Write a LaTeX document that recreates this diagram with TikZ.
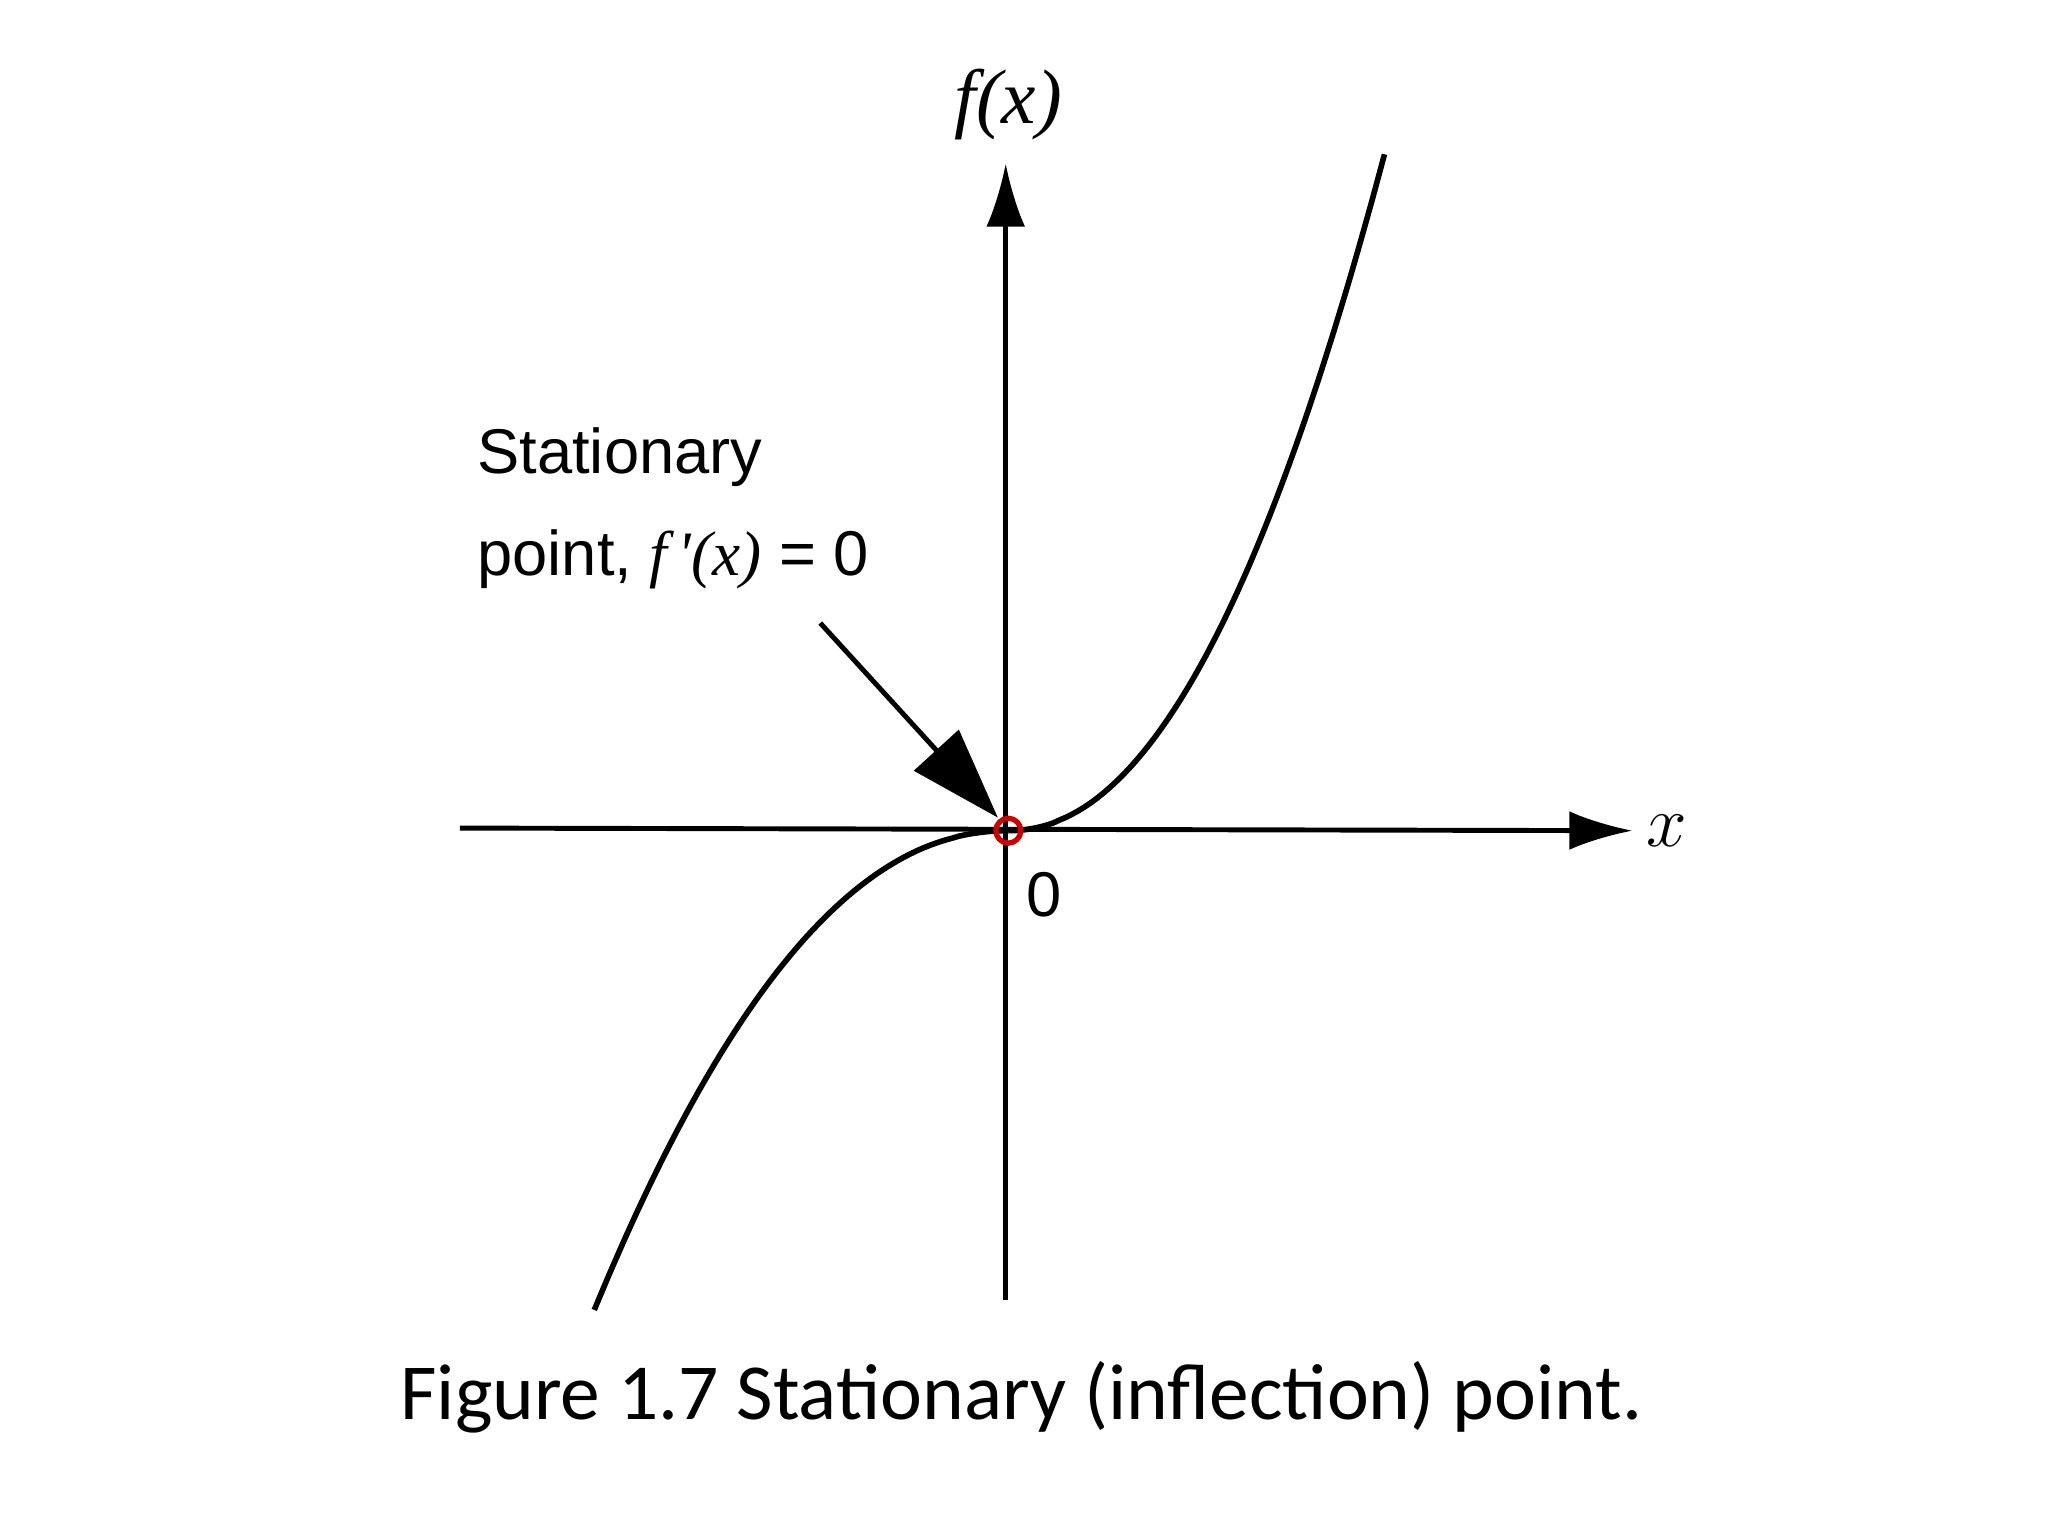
\documentclass[tikz,border=0pt]{standalone}
\usepackage{fontspec}
\setmainfont{Liberation Sans}
\newfontfamily\capfont{Carlito}
\newfontfamily\serifit{Liberation Serif}
\usetikzlibrary{arrows.meta}
\begin{document}
\begin{tikzpicture}[x=0.013061cm,y=-0.013061cm,
  axis/.style={line width=1.4pt,-{Latex[length=18pt,width=11pt]}},
  curve/.style={line width=1.6pt},
  lbl/.style={font=\fontsize{18}{22}\selectfont,anchor=west,inner sep=0pt}]
\useasboundingbox (0,0) rectangle (1568,1176);
\coordinate (O) at (772,636);
\coordinate (yb) at (770,995);
\coordinate (yt) at (770,125);
\coordinate (xl) at (352,634);
\coordinate (xr) at (1250,636);
\draw[axis] (yb) -- (yt);
\draw[axis] (xl) -- (xr);
\node (fx) at (772,80) {\serifit\itshape\fontsize{22}{26}\selectfont f(x)};
\node (xlab) at (1276,636) {\fontsize{20}{24}\selectfont$x$};
\draw[curve] plot[domain=0:288,samples=60] ({772+\x},{636-518*(\x/288)^2.1});
\draw[curve] plot[domain=0:317,samples=60] ({772-\x},{636+367*(\x/317)^2.1});
\node[lbl] (s1) at (365,350) {Stationary};
\node[lbl] (s2) at (365,428) {point, {\serifit\itshape f\,\textquotesingle(x)} = 0};
\coordinate (as) at (628,477);
\draw[line width=1.4pt,-{Triangle[length=26pt,width=17pt]}] (as) -- (764,626);
\draw[red!80!black,line width=1.5pt] (O) circle (9.5);
\node[font=\fontsize{18}{22}\selectfont] (zero) at (799,685) {0};
\node[font=\capfont\fontsize{22.6}{28}\selectfont] (cap) at (782,1070) {Figure 1.7 Stationary (inflection) point.};
\end{tikzpicture}
\end{document}
